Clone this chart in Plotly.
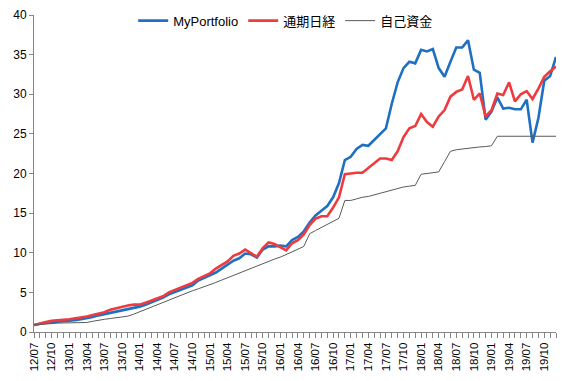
import plotly.graph_objects as go

# monthly data 2012/07 .. 2019/12
months = []
y, m = 2012, 7
for _ in range(90):
    months.append(f"{y % 100:02d}/{m:02d}")
    m += 1
    if m > 12:
        m = 1
        y += 1

my_portfolio = [
    0.88, 1.05, 1.17, 1.25, 1.3, 1.35, 1.42, 1.5, 1.6, 1.72,
    1.9, 2.1, 2.25, 2.4, 2.55, 2.75, 2.9, 3.05, 3.2, 3.45,
    3.75, 4.0, 4.35, 4.75, 5.05, 5.3, 5.6, 5.9, 6.5, 6.8,
    7.1, 7.5, 8.0, 8.5, 9.0, 9.3, 9.9, 9.8, 9.4, 10.4,
    10.8, 10.8, 10.9, 10.8, 11.6, 12.0, 12.7, 13.8, 14.7, 15.3,
    15.9, 17.0, 18.8, 21.7, 22.1, 23.1, 23.6, 23.5, 24.2, 24.9,
    25.7, 28.8, 31.5, 33.3, 34.1, 33.9, 35.6, 35.4, 35.7, 33.3,
    32.2, 34.1, 35.9, 35.9, 36.8, 33.1, 32.7, 26.8, 27.8, 29.6,
    28.2, 28.3, 28.1, 28.1, 29.3, 23.9, 27.0, 31.7, 32.3, 34.7,
]

nikkei = [
    0.88, 1.1, 1.25, 1.4, 1.5, 1.55, 1.6, 1.7, 1.85, 1.95,
    2.15, 2.35, 2.5, 2.8, 3.0, 3.2, 3.35, 3.45, 3.45, 3.7,
    4.0, 4.25, 4.5, 5.0, 5.3, 5.5, 5.8, 6.2, 6.7, 7.0,
    7.4, 8.0, 8.5, 8.9, 9.6, 9.9, 10.4, 10.0, 9.5, 10.6,
    11.3, 11.1, 10.7, 10.3, 11.2, 11.6, 12.3, 13.5, 14.3, 14.6,
    14.6, 15.7, 17.0, 19.9, 20.0, 20.1, 20.1, 20.7, 21.3, 21.9,
    21.9, 21.7, 22.8, 24.6, 25.7, 26.0, 27.5, 26.5, 25.9, 27.2,
    28.0, 29.7, 30.3, 30.6, 32.3, 29.3, 30.1, 27.2, 28.0, 30.1,
    29.9, 31.5, 29.1, 30.0, 30.4, 29.4, 30.7, 32.2, 32.9, 33.5,
]

own_funds = [
    0.88, 0.95, 1.05, 1.1, 1.12, 1.14, 1.15, 1.16, 1.17, 1.2,
    1.35, 1.5, 1.6, 1.7, 1.8, 1.9, 2.0, 2.25, 2.55, 2.85,
    3.15, 3.45, 3.75, 4.05, 4.3, 4.6, 4.9, 5.2, 5.45, 5.7,
    5.95, 6.25, 6.55, 6.85, 7.15, 7.45, 7.75, 8.05, 8.35, 8.65,
    8.95, 9.2, 9.45, 9.75, 10.1, 10.45, 10.8, 12.4, 12.8, 13.2,
    13.6, 14.0, 14.35, 16.6, 16.6, 16.8, 17.0, 17.1, 17.3, 17.5,
    17.7, 17.9, 18.1, 18.3, 18.4, 18.5, 19.9, 20.0, 20.1, 20.2,
    21.5, 22.8, 23.0, 23.1, 23.2, 23.3, 23.35, 23.4, 23.5, 24.7,
    24.7, 24.7, 24.7, 24.7, 24.7, 24.7, 24.7, 24.7, 24.7, 24.7,
]

series_names = ["MyPortfolio", "通期日経", "自己資金"]
y_ticks = [0, 5, 10, 15, 20, 25, 30, 35, 40]

x = list(range(len(months)))
tick_idx = list(range(0, len(months), 3))
tick_text = [months[i] for i in tick_idx]

font_family = "Liberation Sans, Arial, Noto Sans CJK JP, sans-serif"

fig = go.Figure()
fig.add_trace(go.Scatter(x=x, y=my_portfolio, mode="lines", name=series_names[0],
                         line=dict(color="#1F70C1", width=2.6)))
fig.add_trace(go.Scatter(x=x, y=nikkei, mode="lines", name=series_names[1],
                         line=dict(color="#EE3B3F", width=2.6)))
fig.add_trace(go.Scatter(x=x, y=own_funds, mode="lines", name=series_names[2],
                         line=dict(color="#5A5A5A", width=1)))

fig.update_layout(
    width=562, height=373,
    margin=dict(l=26, r=14, t=7, b=49, autoexpand=False),
    paper_bgcolor="white", plot_bgcolor="white",
    font=dict(family=font_family, size=11, color="#000000"),
    showlegend=True,
    legend=dict(orientation="h", x=0.19, y=0.966, yref="container",
                xanchor="left", yanchor="middle",
                bgcolor="rgba(0,0,0,0)", font=dict(size=13, family=font_family),
                itemwidth=30, tracegroupgap=0),
)
fig.update_xaxes(
    range=[0, len(months) - 1], tickmode="array", tickvals=tick_idx, ticktext=tick_text,
    tickangle=-90, showgrid=False, zeroline=False,
    showline=True, linecolor="#868686", linewidth=1,
    ticks="outside", ticklen=5, tickcolor="#868686",
    minor=dict(dtick=1, tick0=0, ticks="outside", ticklen=5, tickcolor="#868686", showgrid=False),
    tickfont=dict(size=11.5), fixedrange=True, automargin=False,
)
fig.update_yaxes(
    range=[0, 40], tickmode="array", tickvals=y_ticks, showgrid=False, zeroline=False,
    showline=True, linecolor="#868686", linewidth=1,
    ticks="outside", ticklen=4, tickcolor="#868686",
    tickfont=dict(size=12), fixedrange=True, automargin=False,
)

fig.write_html("out.html")
